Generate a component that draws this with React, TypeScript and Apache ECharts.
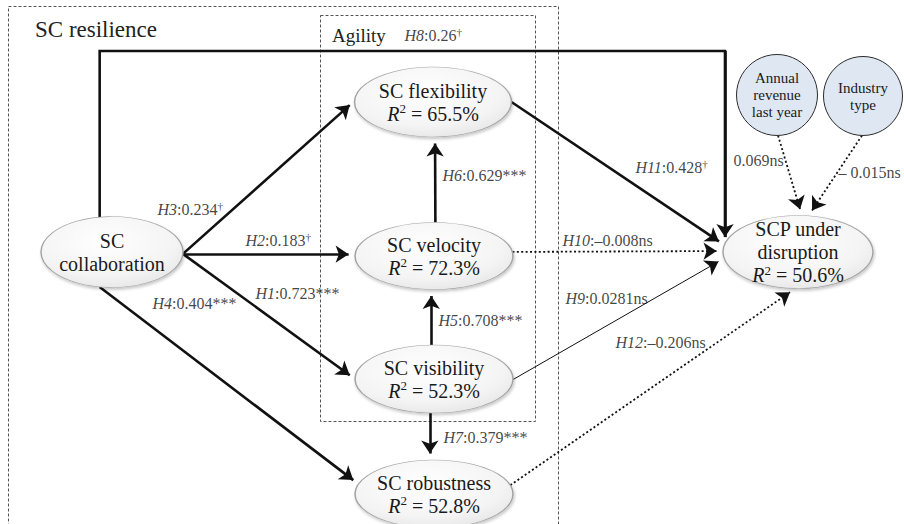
import React, { useEffect, useRef } from 'react';
import * as echarts from 'echarts';

// ---------------- data ----------------
const nodeKeys = ['collab', 'flex', 'velo', 'visi', 'robu', 'scp', 'rev', 'ind'];
const nodeNames = [
  ['SC', 'collaboration'],
  ['SC flexibility'],
  ['SC velocity'],
  ['SC visibility'],
  ['SC robustness'],
  ['SCP under', 'disruption'],
  ['Annual', 'revenue', 'last year'],
  ['Industry', 'type'],
];
const nodeR2 = [null, '65.5', '72.3', '52.3', '52.8', '50.6', null, null];

const edgeHyp = ['H1', 'H2', 'H3', 'H4', 'H5', 'H6', 'H7', 'H8', 'H9', 'H10', 'H11', 'H12', '', ''];
const edgeFrom = ['collab', 'collab', 'collab', 'collab', 'visi', 'velo', 'visi', 'collab', 'visi', 'velo', 'flex', 'robu', 'rev', 'ind'];
const edgeTo = ['visi', 'velo', 'flex', 'robu', 'velo', 'flex', 'robu', 'scp', 'scp', 'scp', 'scp', 'scp', 'scp', 'scp'];
const edgeCoef = ['0.723', '0.183', '0.234', '0.404', '0.708', '0.629', '0.379', '0.26', '0.0281', '–0.008', '0.428', '–0.206', '0.069', '– 0.015'];
const edgeSig = ['***', '†', '†', '***', '***', '***', '***', '†', 'ns', 'ns', '†', 'ns', 'ns', 'ns'];

const groupTitles = ['SC resilience', 'Agility'];

// ---------------- layout (positions / sizes / styles) ----------------
const nodeCenter: Record<string, [number, number]> = {
  collab: [112, 252],
  flex: [433, 102],
  velo: [434, 256],
  visi: [434, 379],
  robu: [434, 494],
  scp: [798, 252],
  rev: [777, 95],
  ind: [863, 96],
};
const nodeSize: Record<string, [number, number]> = {
  collab: [142, 71],
  flex: [157, 70],
  velo: [158, 67],
  visi: [158, 68],
  robu: [158, 68],
  scp: [150, 73],
  rev: [81, 81],
  ind: [79, 79],
};
// [angle on source, angle on target] in degrees, screen orientation
const edgeAnchors: [number, number][] = [
  [3, 180], [3, 183], [3, 182], [100, 197], [-92, 92], [-89, 88.5], [93, -93],
  [-100, 193.3], [1, 170], [-7, 181.5], [0, 191], [-15, 92], [88.5, -87], [91.5, -82],
];
const edgeKind = ['bold', 'bold', 'bold', 'bold', 'bold', 'bold', 'bold', 'bold', 'thin', 'dot', 'bold', 'dot', 'dot', 'dot'];
const edgeLabelAt: [number, number][] = [
  [255, 293], [245, 240], [157, 209], [152, 303], [438, 320], [442, 175], [443, 437],
  [404, 35], [565, 298], [562, 240], [635, 167], [615, 342], [733, 160], [838, 172],
];
const railY = 51;
const groupBoxes = [
  { x: 8.5, y: 6.5, w: 550, h: 530, tx: 35, ty: 29, fs: 23 },
  { x: 320.5, y: 15.5, w: 215, h: 406, tx: 332, ty: 35, fs: 19 },
];

const FONT = "'Liberation Serif', 'Times New Roman', serif";
const INK = '#111111';
const ARROW_W = 8;
const ARROW_L = 13;

function anchor(key: string, deg: number): [number, number] {
  const [cx, cy] = nodeCenter[key];
  const [w, h] = nodeSize[key];
  const t = (deg * Math.PI) / 180;
  return [cx + (w / 2) * Math.cos(t), cy + (h / 2) * Math.sin(t)];
}

function shorten(a: [number, number], b: [number, number], d: number): [number, number] {
  const dx = b[0] - a[0];
  const dy = b[1] - a[1];
  const len = Math.sqrt(dx * dx + dy * dy) || 1;
  return [b[0] - (dx / len) * d, b[1] - (dy / len) * d];
}

function lineStyleFor(kind: string) {
  if (kind === 'thin') return { color: INK, width: 1, type: 'solid' as const, opacity: 1, curveness: 0 };
  if (kind === 'dot') return { color: INK, width: 1.8, type: [2, 2.4] as any, opacity: 1, curveness: 0 };
  return { color: INK, width: 2.6, type: 'solid' as const, join: 'miter' as const, opacity: 1, curveness: 0 };
}

function edgeLabelText(i: number) {
  const hyp = edgeHyp[i];
  const sig = edgeSig[i];
  const head = hyp ? `{i|${hyp}}{n|:${edgeCoef[i]}` : `{n|${edgeCoef[i]}`;
  return sig === '†' ? `${head}}{s|†}` : `${head}${sig}}`;
}

function nodeLabelText(i: number) {
  const isCircle = nodeKeys[i] === 'rev' || nodeKeys[i] === 'ind';
  const tag = isCircle ? 'c' : 'n';
  const lines = nodeNames[i].map((l) => `{${tag}|${l}}`);
  if (nodeR2[i] != null) lines.push(`{r|R}{sup|2}{n| = ${nodeR2[i]}%}`);
  return lines.join('\n');
}

export default function App() {
  const ref = useRef<HTMLDivElement>(null);

  useEffect(() => {
    if (!ref.current) return;
    const chart = echarts.init(ref.current, undefined, { renderer: 'svg' });

    const arrowData: any[] = [];
    const railData: any[] = [];
    edgeFrom.forEach((from, i) => {
      const to = edgeTo[i];
      const s = anchor(from, edgeAnchors[i][0]);
      const e = anchor(to, edgeAnchors[i][1]);
      const ls = lineStyleFor(edgeKind[i]);
      if (edgeHyp[i] === 'H8') {
        const c1: [number, number] = [s[0], railY];
        const c2: [number, number] = [e[0], railY];
        const eS = shorten(c2, e, ARROW_L / 2);
        railData.push({ coords: [s, c1, c2, eS], lineStyle: ls });
        arrowData.push({ coords: [c2, eS], lineStyle: ls });
      } else {
        const eS = shorten(s, e, ARROW_L / 2);
        arrowData.push({ coords: [s, eS], lineStyle: ls });
      }
    });

    const ellipseFill = new echarts.graphic.RadialGradient(0.45, 0.35, 0.75, [
      { offset: 0, color: '#ffffff' },
      { offset: 0.65, color: '#f4f4f4' },
      { offset: 1, color: '#e2e2e2' },
    ]);

    const nodeData = nodeKeys.map((k) => {
      const isCircle = k === 'rev' || k === 'ind';
      return {
        value: nodeCenter[k],
        symbol: 'circle',
        symbolSize: nodeSize[k],
        itemStyle: isCircle
          ? { color: '#dfe8f2', borderColor: '#2b2b2b', borderWidth: 1, opacity: 1 }
          : {
              color: ellipseFill,
              borderColor: '#a3a3a3',
              borderWidth: 1,
              opacity: 1,
              shadowBlur: 3,
              shadowOffsetX: 1,
              shadowOffsetY: 2,
              shadowColor: 'rgba(0,0,0,0.22)',
            },
      };
    });

    const labelData = edgeLabelAt.map((p) => ({ value: p }));

    chart.setOption({
      animation: false,
      grid: { left: 0, right: 0, top: 0, bottom: 0 },
      xAxis: { type: 'value', min: 0, max: 904, show: false },
      yAxis: { type: 'value', min: 0, max: 524, inverse: true, show: false },
      graphic: [
        ...groupBoxes.map((b) => ({
          type: 'rect',
          z: 0,
          shape: { x: b.x, y: b.y, width: b.w, height: b.h },
          style: { fill: 'none', stroke: '#555', lineWidth: 1, lineDash: [3, 2] },
        })),
        ...groupBoxes.map((b, i) => ({
          type: 'text',
          z: 1,
          x: b.tx,
          y: b.ty,
          style: {
            text: groupTitles[i],
            fontFamily: FONT,
            fontSize: b.fs,
            fill: '#222',
            verticalAlign: 'middle',
          },
        })),
      ],
      series: [
        {
          type: 'lines',
          coordinateSystem: 'cartesian2d',
          polyline: true,
          silent: true,
          z: 3,
          lineStyle: { opacity: 1 },
          data: railData,
        },
        {
          type: 'lines',
          coordinateSystem: 'cartesian2d',
          silent: true,
          z: 3,
          symbol: ['none', 'arrow'],
          symbolSize: [ARROW_W, ARROW_L],
          lineStyle: { opacity: 1 },
          data: arrowData,
        },
        {
          type: 'scatter',
          silent: true,
          z: 5,
          data: nodeData,
          label: {
            show: true,
            position: 'inside',
            formatter: (p: any) => nodeLabelText(p.dataIndex),
            rich: {
              n: { fontFamily: FONT, fontSize: 20, lineHeight: 23, color: '#1a1a1a' },
              c: { fontFamily: FONT, fontSize: 15, lineHeight: 17, color: '#1a1a1a' },
              r: { fontFamily: FONT, fontSize: 20, lineHeight: 23, fontStyle: 'italic', color: '#1a1a1a' },
              sup: { fontFamily: FONT, fontSize: 13, lineHeight: 14, verticalAlign: 'top', color: '#1a1a1a' },
            },
          },
        },
        {
          type: 'scatter',
          silent: true,
          z: 6,
          symbol: 'rect',
          symbolSize: 1,
          itemStyle: { color: 'transparent' },
          data: labelData,
          label: {
            show: true,
            position: 'right',
            distance: 0,
            formatter: (p: any) => edgeLabelText(p.dataIndex),
            rich: {
              i: { fontFamily: FONT, fontSize: 16, lineHeight: 18, fontStyle: 'italic', color: INK },
              n: { fontFamily: FONT, fontSize: 16, lineHeight: 18, color: INK },
              s: { fontFamily: FONT, fontSize: 11, lineHeight: 10, verticalAlign: 'top', color: INK },
            },
          },
        },
      ],
    });

    return () => chart.dispose();
  }, []);

  return (
    <div
      ref={ref}
      style={{ position: 'absolute', left: 0, top: 0, width: 904, height: 524, background: '#fff' }}
    />
  );
}
